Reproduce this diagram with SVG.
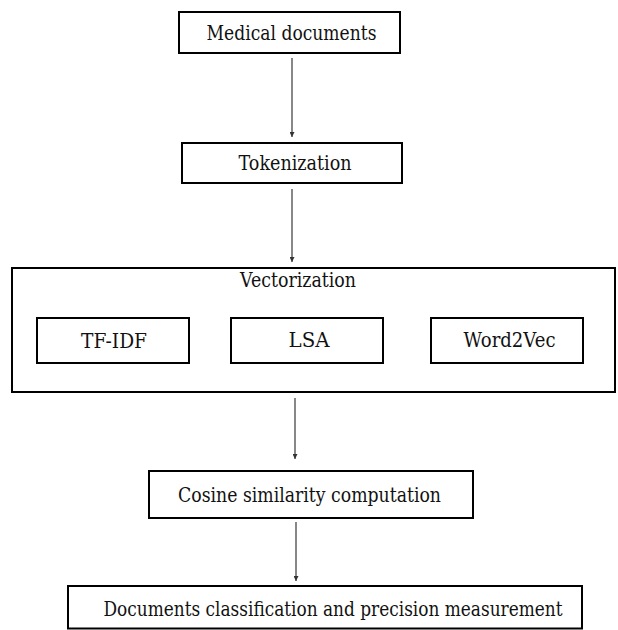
<svg xmlns="http://www.w3.org/2000/svg" width="618" height="630" viewBox="0 0 618 630">
<style>
.box{fill:#fff;stroke:#000;stroke-width:2}
.t{font-family:'DejaVu Serif',serif;font-size:19.5px;fill:#111;text-anchor:middle}
.c{stroke:#555;stroke-width:1.4;fill:none;marker-end:url(#ah)}
</style>
<defs>
<marker id="ah" viewBox="0 0 10 10" refX="10" refY="5" markerWidth="5" markerHeight="5" orient="auto" markerUnits="userSpaceOnUse">
<path d="M0,0 L10,5 L0,10 z" fill="#333"/>
</marker>
</defs>
<rect width="618" height="630" fill="#fff"/>
<g id="connectors">
<line class="c" x1="292" y1="58" x2="292" y2="137"/>
<line class="c" x1="292" y1="189" x2="292" y2="262"/>
<line class="c" x1="295" y1="398" x2="295" y2="459"/>
<line class="c" x1="296" y1="522" x2="296" y2="581"/>
</g>
<g id="medical-documents">
<rect class="box" x="179" y="12" width="221" height="41"/>
<text class="t" x="291.5" y="39.5" textLength="170" lengthAdjust="spacingAndGlyphs">Medical documents</text>
</g>
<g id="tokenization">
<rect class="box" x="182" y="143" width="220" height="40"/>
<text class="t" x="295" y="170" textLength="113" lengthAdjust="spacingAndGlyphs">Tokenization</text>
</g>
<g id="vectorization">
<rect class="box" x="12" y="268" width="603" height="124"/>
<text class="t" x="298" y="287" textLength="116" lengthAdjust="spacingAndGlyphs">Vectorization</text>
</g>
<g id="tf-idf">
<rect class="box" x="37" y="318" width="152" height="45"/>
<text class="t" x="114" y="348" textLength="66" lengthAdjust="spacingAndGlyphs">TF-IDF</text>
</g>
<g id="lsa">
<rect class="box" x="231" y="318" width="152" height="45"/>
<text class="t" x="309" y="347" textLength="41" lengthAdjust="spacingAndGlyphs">LSA</text>
</g>
<g id="word2vec">
<rect class="box" x="431" y="318" width="152" height="45"/>
<text class="t" x="509.5" y="347" textLength="92" lengthAdjust="spacingAndGlyphs">Word2Vec</text>
</g>
<g id="cosine-similarity">
<rect class="box" x="149" y="471" width="324" height="47"/>
<text class="t" x="309.5" y="502" textLength="263" lengthAdjust="spacingAndGlyphs">Cosine similarity computation</text>
</g>
<g id="classification">
<rect class="box" x="68" y="586" width="514" height="42.5"/>
<text class="t" x="333" y="616" font-size="18.8" textLength="459" lengthAdjust="spacingAndGlyphs">Documents classification and precision measurement</text>
</g>
</svg>
